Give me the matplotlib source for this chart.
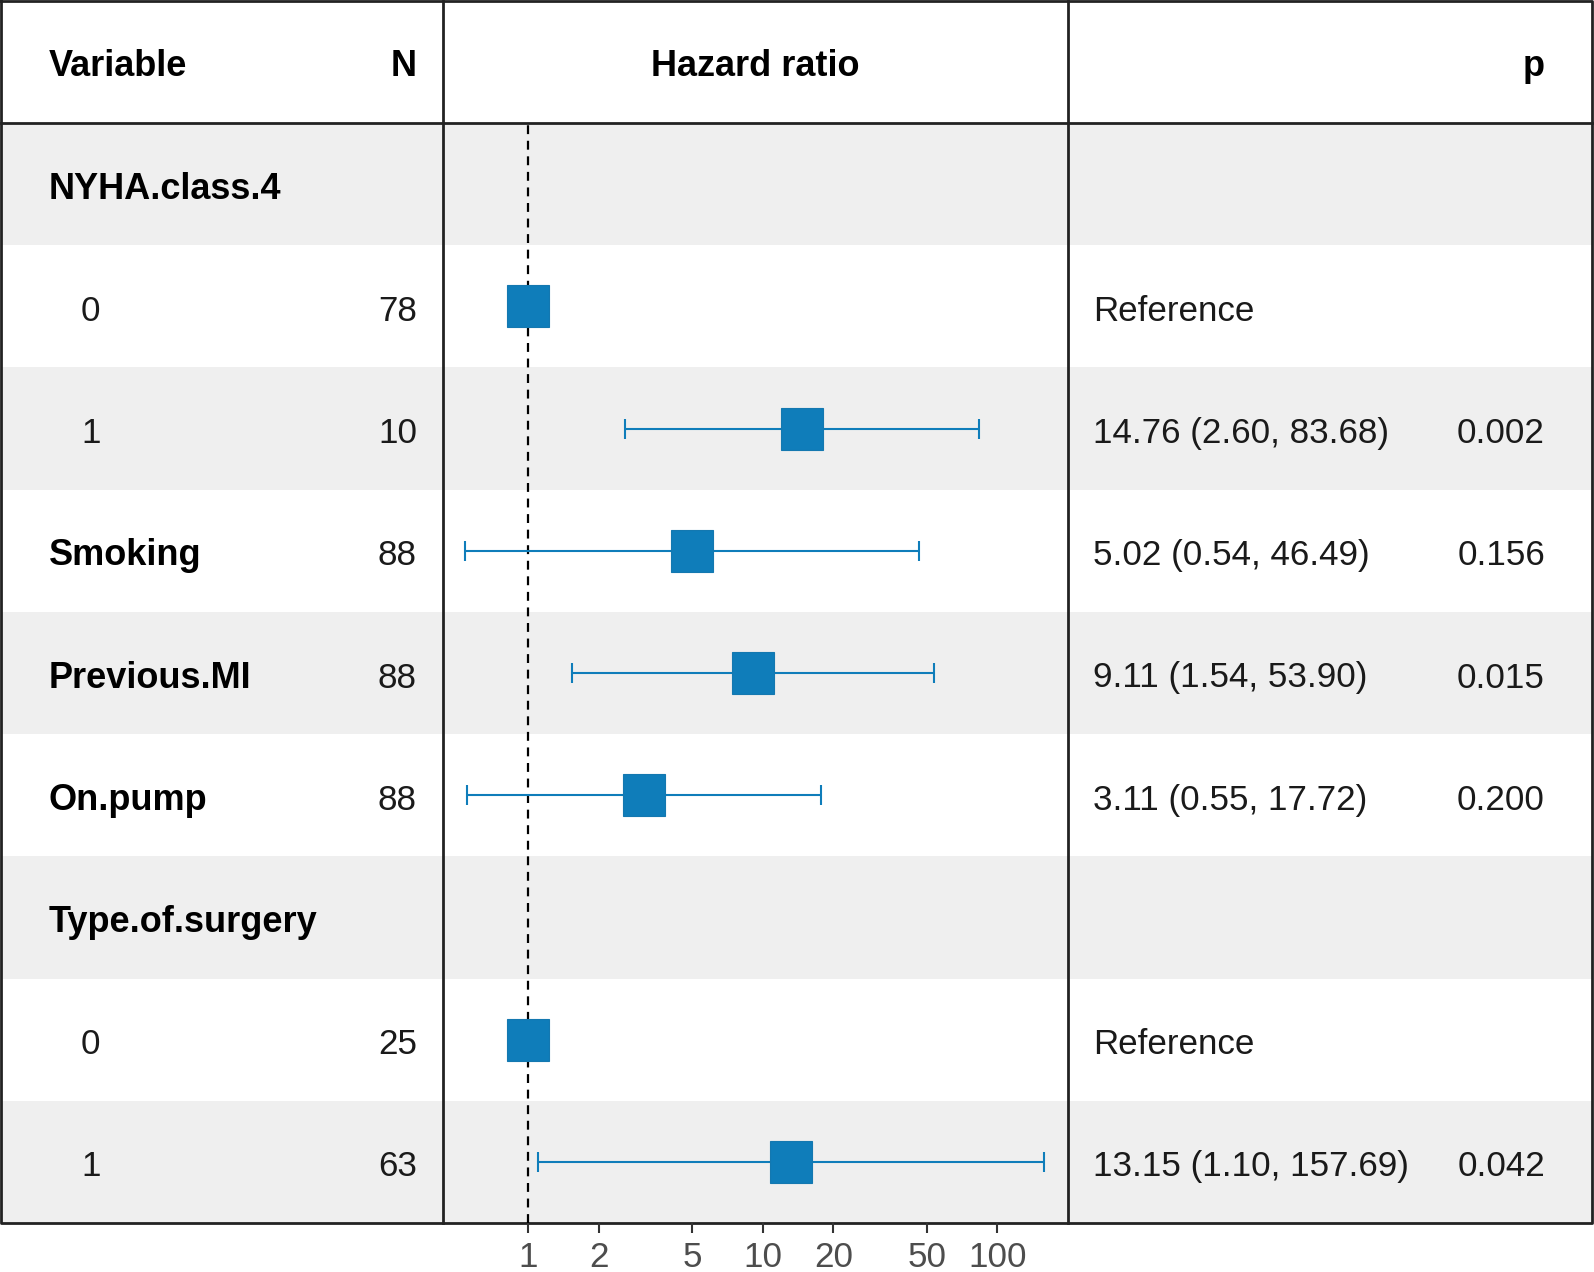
"""Forest plot of hazard ratios (Cox model), drawn as a table with a log-scale panel."""

import matplotlib
matplotlib.use("Agg")
import matplotlib.pyplot as plt
from matplotlib.patches import Rectangle
import numpy as np

plt.rcParams["font.family"] = ["Liberation Sans", "DejaVu Sans"]

# --- data -------------------------------------------------------------------
row_labels = ["NYHA.class.4", "0", "1", "Smoking", "Previous.MI", "On.pump",
              "Type.of.surgery", "0", "1"]
row_is_variable = [True, False, False, True, True, True, True, False, False]
n_values = ["", "78", "10", "88", "88", "88", "", "25", "63"]
hazard_ratio = [np.nan, 1.0, 14.76, 5.02, 9.11, 3.11, np.nan, 1.0, 13.15]
ci_lower = [np.nan, np.nan, 2.60, 0.54, 1.54, 0.55, np.nan, np.nan, 1.10]
ci_upper = [np.nan, np.nan, 83.68, 46.49, 53.90, 17.72, np.nan, np.nan, 157.69]
p_values = ["", "", "0.002", "0.156", "0.015", "0.200", "", "", "0.042"]
is_reference = [False, True, False, False, False, False, False, True, False]
x_ticks = [1, 2, 5, 10, 20, 50, 100]
x_limits = (0.435, 200)

# --- layout (pixels) --------------------------------------------------------
W, H = 1594, 1272
table_left, table_right = 1, 1592
table_top, header_bottom, table_bottom = 1, 123, 1223
col_split1, col_split2 = 443, 1068
row_h = (table_bottom - header_bottom) / len(row_labels)
blue = "#0F7DBA"
fs = 25.2       # regular text
fs_b = 26       # bold text
txt_dy = 5      # text sits a little below row centre

fig = plt.figure(figsize=(W / 100, H / 100), dpi=100)
tab = fig.add_axes([0, 0, 1, 1])
tab.set_xlim(0, W)
tab.set_ylim(H, 0)
tab.axis("off")

# row shading
for i in range(len(row_labels)):
    if i % 2 == 0:
        tab.add_patch(Rectangle((table_left, header_bottom + i * row_h),
                                table_right - table_left, row_h,
                                facecolor="#EFEFEF", edgecolor="none", zorder=0))

# grid lines
lw = 2.0
tab.plot([table_left, table_right, table_right, table_left, table_left],
         [table_top, table_top, table_bottom, table_bottom, table_top],
         color="#222222", lw=lw, zorder=2)
tab.plot([table_left, table_right], [header_bottom, header_bottom], color="#222222", lw=lw, zorder=2)
for xs in (col_split1, col_split2):
    tab.plot([xs, xs], [table_top, table_bottom], color="#222222", lw=lw, zorder=2)

# header
hy = 66
tab.text(49, hy, "Variable", fontsize=fs_b, fontweight="bold", ha="left", va="center")
tab.text(417, hy, "N", fontsize=fs_b, fontweight="bold", ha="right", va="center")
tab.text((col_split1 + col_split2) / 2, hy, "Hazard ratio", fontsize=fs_b,
         fontweight="bold", ha="center", va="center")
tab.text(1545, hy, "p", fontsize=fs_b, fontweight="bold", ha="right", va="center")

# table body text
for i, label in enumerate(row_labels):
    yc = header_bottom + (i + 0.5) * row_h + txt_dy
    if row_is_variable[i]:
        tab.text(49, yc, label, fontsize=fs_b, fontweight="bold", ha="left", va="center")
    else:
        tab.text(81, yc, label, fontsize=fs, ha="left", va="center", color="#1a1a1a")
    if n_values[i]:
        tab.text(417, yc, n_values[i], fontsize=fs, ha="right", va="center", color="#1a1a1a")
    if is_reference[i]:
        tab.text(1093, yc, "Reference", fontsize=fs, ha="left", va="center", color="#1a1a1a")
    elif not np.isnan(ci_lower[i]):
        est = f"{hazard_ratio[i]:.2f} ({ci_lower[i]:.2f}, {ci_upper[i]:.2f})"
        tab.text(1093, yc, est, fontsize=fs, ha="left", va="center", color="#1a1a1a")
    if p_values[i]:
        tab.text(1545, yc, p_values[i], fontsize=fs, ha="right", va="center", color="#1a1a1a")

# --- forest panel -----------------------------------------------------------
ax = fig.add_axes([col_split1 / W, 1 - table_bottom / H,
                   (col_split2 - col_split1) / W, (table_bottom - header_bottom) / H])
ax.set_facecolor("none")
ax.set_xscale("log")
ax.set_xlim(*x_limits)
ax.set_ylim(len(row_labels), 0)
for s in ax.spines.values():
    s.set_visible(False)

ax.axvline(1, color="black", lw=1.6, linestyle=(0, (4, 3)), zorder=1)

y_pos = np.arange(len(row_labels)) + 0.5
hr = np.array(hazard_ratio)
lo = np.array(ci_lower)
hi = np.array(ci_upper)
has_ci = ~np.isnan(lo)
ax.errorbar(hr[has_ci], y_pos[has_ci],
            xerr=[hr[has_ci] - lo[has_ci], hi[has_ci] - hr[has_ci]],
            fmt="none", ecolor=blue, elinewidth=1.5, capsize=7, capthick=1.5, zorder=2)
has_hr = ~np.isnan(hr)
ax.plot(hr[has_hr], y_pos[has_hr], "s", color=blue, markersize=30,
        markeredgecolor="#1478B0", markeredgewidth=0.8, zorder=3)

ax.set_yticks([])
ax.set_xticks(x_ticks)
ax.set_xticklabels([str(t) for t in x_ticks])
ax.xaxis.set_minor_locator(matplotlib.ticker.NullLocator())
ax.tick_params(axis="x", direction="out", length=7, width=1.5, color="#333333",
               labelsize=fs, labelcolor="#4D4D4D", pad=6)

fig.savefig("out.png", dpi=100)
plt.close(fig)
